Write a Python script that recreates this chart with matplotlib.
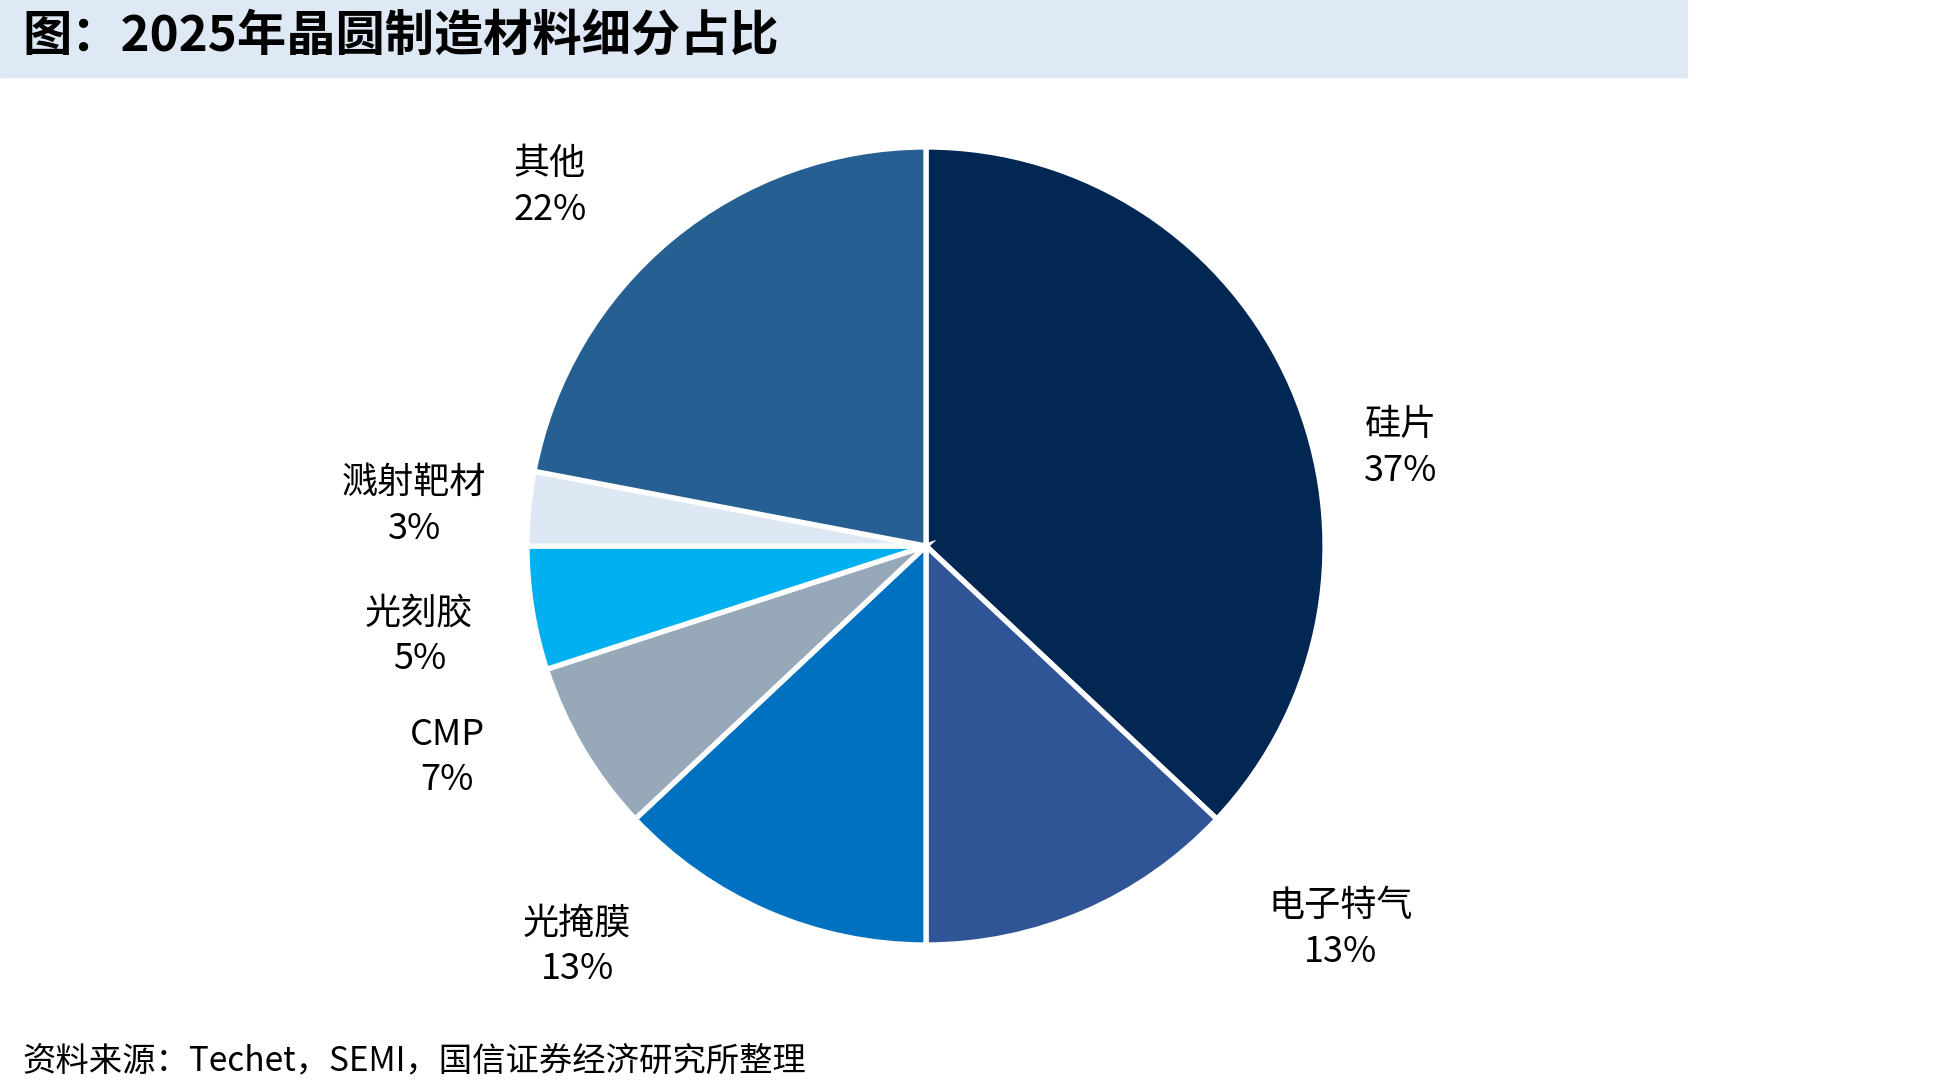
import matplotlib.pyplot as plt
from matplotlib.patches import Rectangle

plt.rcParams['font.family'] = ['Noto Sans CJK SC', 'DejaVu Sans']

# data
categories = ["硅片", "电子特气", "光掩膜", "CMP", "光刻胶", "溅射靶材", "其他"]
shares = [37, 13, 13, 7, 5, 3, 22]
colors = ["#022753", "#2F5597", "#0070C0", "#97A9B9", "#00B0F0", "#DDE8F4", "#265F91"]

# label positions (in units of pie radius, relative to centre)
label_pos = [(1.19, 0.245), (1.04, -0.96), (-0.874, -1.003), (-1.20, -0.53),
             (-1.27, -0.226), (-1.283, 0.10), (-0.943, 0.90)]

W, H = 1955, 1092
fig = plt.figure(figsize=(W / 100, H / 100), dpi=100)
ax = fig.add_axes([0, 0, 1, 1])

# title bar
ax.add_patch(Rectangle((0, H - 77), 1687, 77, color="#DEE9F5", zorder=0))
ax.text(22, H - 36, "图：2025年晶圆制造材料细分占比", fontsize=35.5, fontweight="bold",
        va="center", ha="left")

cx, cy, R = 926, 546, 399
ax.pie(shares, colors=colors, startangle=90, counterclock=False,
       center=(cx, cy), radius=R, frame=True,
       wedgeprops=dict(edgecolor="white", linewidth=3.8))
ax.set_xlim(0, W)
ax.set_ylim(0, H)
ax.axis("off")

for name, val, (dx, dy) in zip(categories, shares, label_pos):
    ax.text(cx + dx * R, cy + dy * R, f"{name}\n{val}%", fontsize=26,
            ha="center", va="center", linespacing=1.35)

ax.text(22, H - 1061, "资料来源：Techet，SEMI，国信证券经济研究所整理", fontsize=24,
        ha="left", va="center")

fig.savefig("out.png", dpi=100)
